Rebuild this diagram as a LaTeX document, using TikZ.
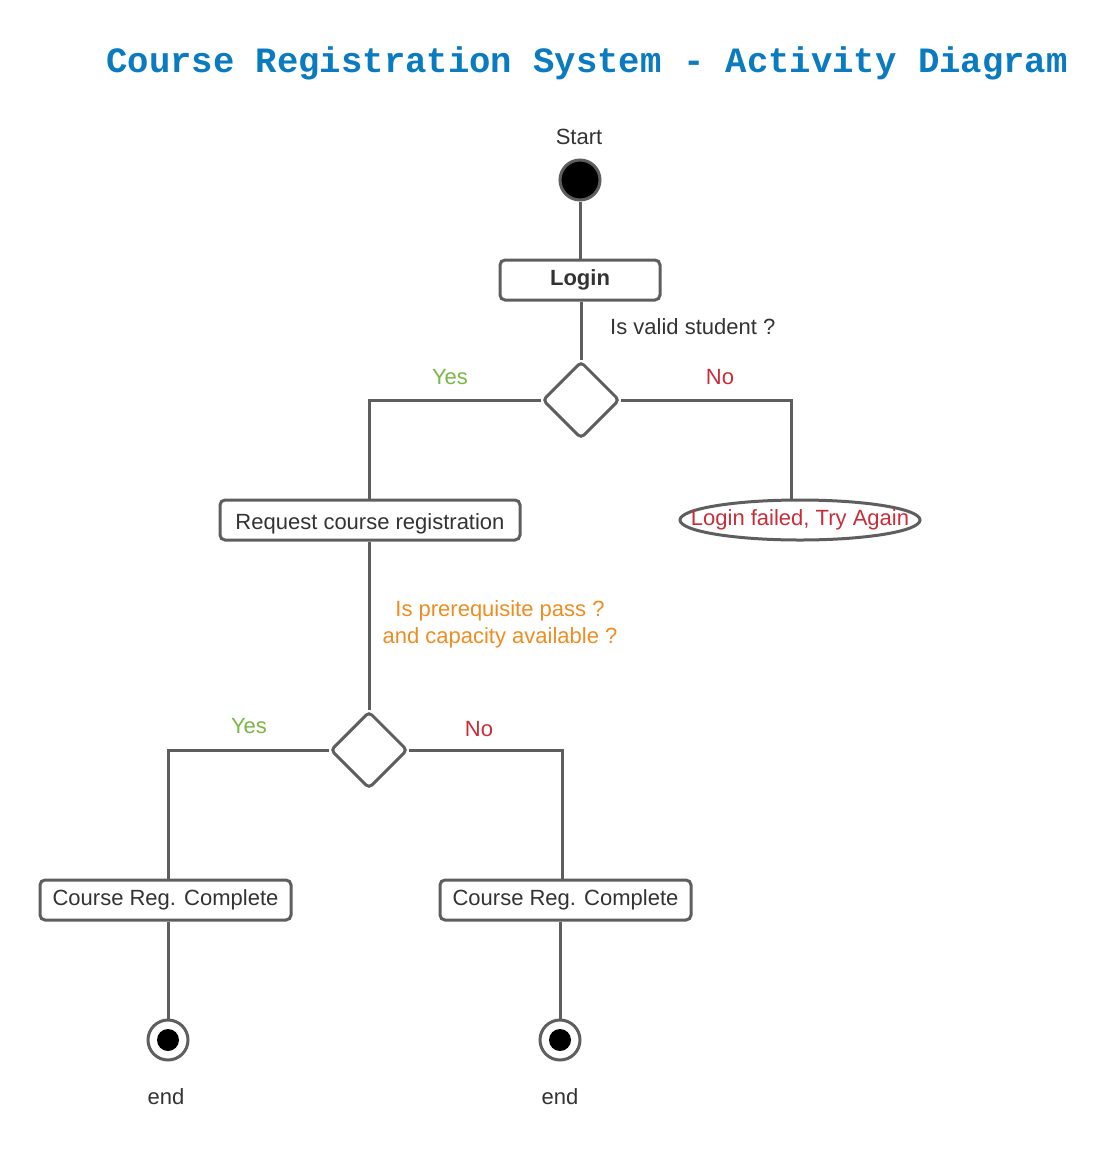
\documentclass[tikz,border=0pt]{standalone}
\usepackage{fontspec}
\setmainfont{Liberation Sans}
\newfontfamily\titlefont{Liberation Mono}
\usetikzlibrary{shapes.geometric}
\definecolor{linegray}{HTML}{5E5E5E}
\definecolor{titleblue}{HTML}{0A7BC0}
\definecolor{yesgreen}{HTML}{7AB648}
\definecolor{nored}{HTML}{C92D39}
\definecolor{condorange}{HTML}{EF8D22}
\definecolor{txt}{HTML}{333333}
\begin{document}
\begin{tikzpicture}[x=1pt,y=-1pt,
  conn/.style={draw=linegray,line width=3pt},
  actbox/.style={draw=linegray,line width=3pt,rounded corners=5pt,fill=white,minimum height=40pt,inner sep=0pt,font=\fontsize{22}{26}\selectfont,text=txt},
  decision/.style={diamond,draw=linegray,line width=3pt,rounded corners=4pt,fill=white,minimum width=77pt,minimum height=77pt,inner sep=0pt},
  lbl/.style={font=\fontsize{22}{26}\selectfont,text=txt,inner sep=0pt},
  yeslbl/.style={lbl,text=yesgreen},
  nolbl/.style={lbl,text=nored}
]
\useasboundingbox (0,0) rectangle (1113,1160);
\fill[white] (0,0) rectangle (1113,1160);

\node[font=\titlefont\bfseries\fontsize{35.6}{40}\selectfont,text=titleblue,inner sep=0pt] (title) at (587,63) {Course Registration System - Activity Diagram};

\node[lbl] (startlbl) at (579,137) {Start};
\node[circle,draw=linegray,fill=black,line width=3pt,minimum size=40pt,inner sep=0pt] (start) at (580,180) {};

\node[actbox,minimum width=160pt,font=\bfseries\fontsize{22}{26}\selectfont] (login) at (580,280) {\raisebox{-1pt}{Login}};
\node[decision] (d1) at (581,400) {};
\node[lbl,anchor=west] (q1) at (610,327) {Is valid student ?};
\node[yeslbl] (y1) at (450,377) {Yes};
\node[nolbl] (n1) at (720,377) {No};

\node[actbox,minimum width=300pt,text depth=0pt] (req) at (370,520) {\raisebox{-3pt}{Request course registration}};
\coordinate (failc) at (800,520);
\path[conn,fill=white] (failc) ellipse (120pt and 20pt);
\node[minimum width=240pt,minimum height=40pt,inner sep=0pt,font=\fontsize{22}{26}\selectfont,text=nored] (fail) at (failc) {\raisebox{1pt}{Login failed, Try Again}};

\node[lbl,text=condorange,align=center,font=\fontsize{22}{27}\selectfont] (q2) at (500,624) {Is prerequisite pass ?\\and capacity available ?};

\node[decision] (d2) at (369,750) {};
\node[yeslbl] (y2) at (249,726) {Yes};
\node[nolbl] (n2) at (479,729) {No};

\node[actbox,minimum width=251pt] (crc1) at (165.5,900) {Course Reg. Complete};
\node[actbox,minimum width=251pt] (crc2) at (565.5,900) {Course Reg. Complete};

\node[circle,draw=linegray,fill=white,line width=3pt,minimum size=40pt,inner sep=0pt] (end1) at (168,1040) {};
\fill[black] (end1.center) circle (11pt);
\node[circle,draw=linegray,fill=white,line width=3pt,minimum size=40pt,inner sep=0pt] (end2) at (560,1040) {};
\fill[black] (end2.center) circle (11pt);
\node[lbl] (endlbl1) at (166,1097) {end};
\node[lbl] (endlbl2) at (560,1097) {end};

\coordinate (c1) at (369,400);
\coordinate (c2) at (791,400);
\coordinate (c3) at (168,750);
\coordinate (c4) at (562,750);

\path[conn] (start.south) -- (login.north);
\path[conn] (login.south -| d1.north) -- (d1.north);
\path[conn] (d1.west) -- (c1) -- (c1 |- req.north);
\path[conn] (d1.east) -- (c2) -- (c2 |- fail.north);
\path[conn] (req.south -| d2.north) -- (d2.north);
\path[conn] (d2.west) -- (c3) -- (c3 |- crc1.north);
\path[conn] (d2.east) -- (c4) -- (c4 |- crc2.north);
\path[conn] (crc1.south -| end1.north) -- (end1.north);
\path[conn] (crc2.south -| end2.north) -- (end2.north);
\end{tikzpicture}
\end{document}
